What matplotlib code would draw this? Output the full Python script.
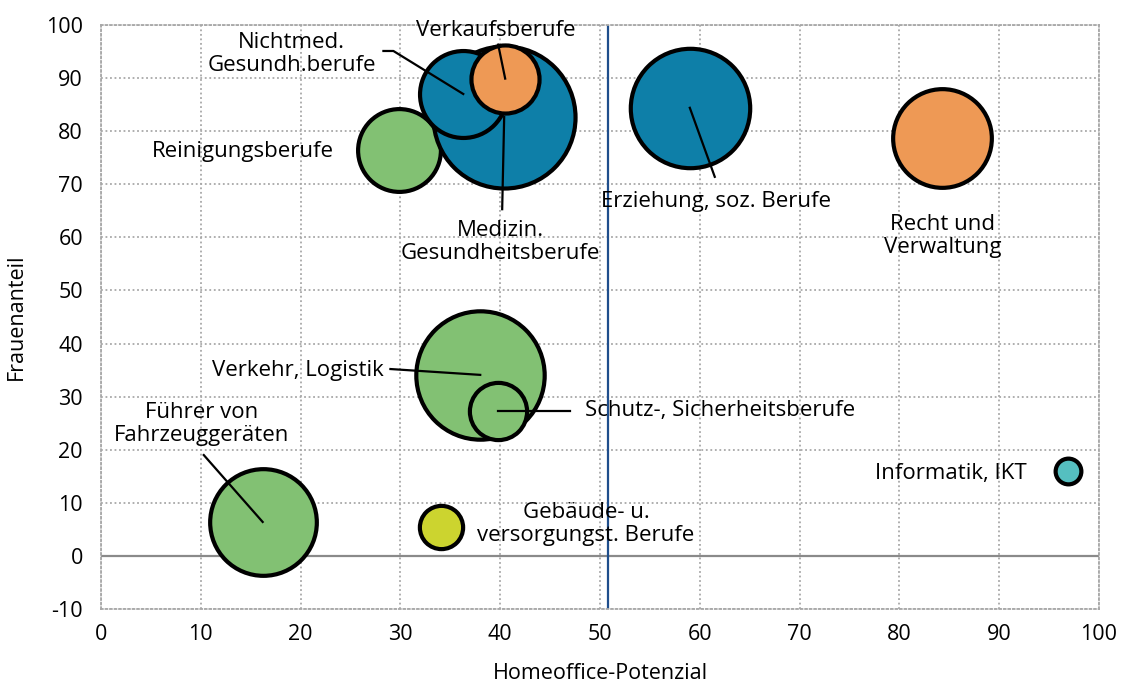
import matplotlib.pyplot as plt

# Berufsgruppen: Homeoffice-Potenzial (x), Frauenanteil (y), Beschaeftigte (Blasengroesse)
berufe = [
    "Reinigungsberufe",
    "Medizin.\nGesundheitsberufe",
    "Nichtmed.\nGesundh.berufe",
    "Verkaufsberufe",
    "Erziehung, soz. Berufe",
    "Recht und\nVerwaltung",
    "Verkehr, Logistik",
    "Schutz-, Sicherheitsberufe",
    "Führer von\nFahrzeuggeräten",
    "Gebäude- u.\nversorgungst. Berufe",
    "Informatik, IKT",
]
homeoffice = [29.9, 40.4, 36.3, 40.5, 59.0, 84.3, 38.0, 39.8, 16.2, 34.1, 96.9]
frauenanteil = [76.4, 82.7, 87.0, 89.9, 84.4, 78.7, 34.1, 27.3, 6.4, 5.5, 16.0]
beschaeftigte = [1.76, 5.18, 1.94, 1.19, 3.66, 2.50, 4.23, 0.84, 2.92, 0.48, 0.17]
farben = ["#82c173", "#0e7fa8", "#0e7fa8", "#ee9955", "#0e7fa8", "#ee9955",
          "#82c173", "#82c173", "#82c173", "#ccd42f", "#55bfc0"]

grenze = 50.8

# label text positions and leader line points (layout only)
text_pos = [(23.3, 76.1, "right"), (19.1, 94.5, "center"), (40.0, 59.2, "center"),
            (61.6, 66.8, "center"), (84.3, 60.3, "center"), (28.3, 35.0, "right"),
            (48.5, 27.3, "left"), (10.1, 24.8, "center"), (48.6, 6.0, "center"),
            (92.8, 15.6, "right")]
label_idx = [0, 2, 1, 4, 5, 6, 7, 8, 9, 10]
leader = {2: [(28.3, 95.1), (29.3, 95.1)], 3: [(39.8, 96.3)], 1: [(40.2, 65.3)],
          4: [(61.5, 71.4)], 6: [(29.0, 35.2)], 7: [(47.0, 27.3)], 8: [(10.3, 19.0)]}

plt.rcParams['font.family'] = ['Open Sans', 'DejaVu Sans']
plt.rcParams['axes.unicode_minus'] = False

fig = plt.figure(figsize=(11.22, 6.84), dpi=100)
ax = fig.add_axes([0.090, 0.1096, 0.8895, 0.8539])

ax.axhline(0, color='#8a8a8a', lw=1.6, zorder=1)
ax.axvline(grenze, color='#1f4e8c', lw=1.6, zorder=1)

for i in range(len(berufe)):
    ax.scatter(homeoffice[i], frauenanteil[i], s=beschaeftigte[i] * 2020,
               color=farben[i], edgecolor='black', linewidth=3.0, zorder=2 + i)

for i, pts in leader.items():
    xs = [p[0] for p in pts] + [homeoffice[i]]
    ys = [p[1] for p in pts] + [frauenanteil[i]]
    ax.plot(xs, ys, color='black', lw=1.6, zorder=20)

for (tx, ty, ha), i in zip(text_pos, label_idx):
    ax.text(tx, ty, berufe[i], ha=ha, va='center', fontsize=16,
            linespacing=1.12, zorder=25)
ax.text(39.6, 98.9, berufe[3], ha='center', va='center', fontsize=16, zorder=25)

ax.set_xlim(0, 100)
ax.set_ylim(-10, 100)
ax.set_xticks(range(0, 101, 10))
ax.set_yticks(range(-10, 101, 10))
ax.grid(True, color='#a8a8a8', linestyle=(0, (1.0, 1.5)), lw=1.3)
ax.set_axisbelow(True)
for sp in ax.spines.values():
    sp.set_color('#a8a8a8')
    sp.set_linestyle((0, (1.0, 1.5)))
    sp.set_linewidth(1.3)
ax.tick_params(length=0, labelsize=15.5)
ax.tick_params(axis='x', pad=11)
ax.tick_params(axis='y', pad=13)
ax.set_xlabel("Homeoffice-Potenzial", fontsize=15.5, labelpad=13)
ax.set_ylabel("Frauenanteil", fontsize=15.5, labelpad=14)

fig.savefig("out.png", dpi=100)
